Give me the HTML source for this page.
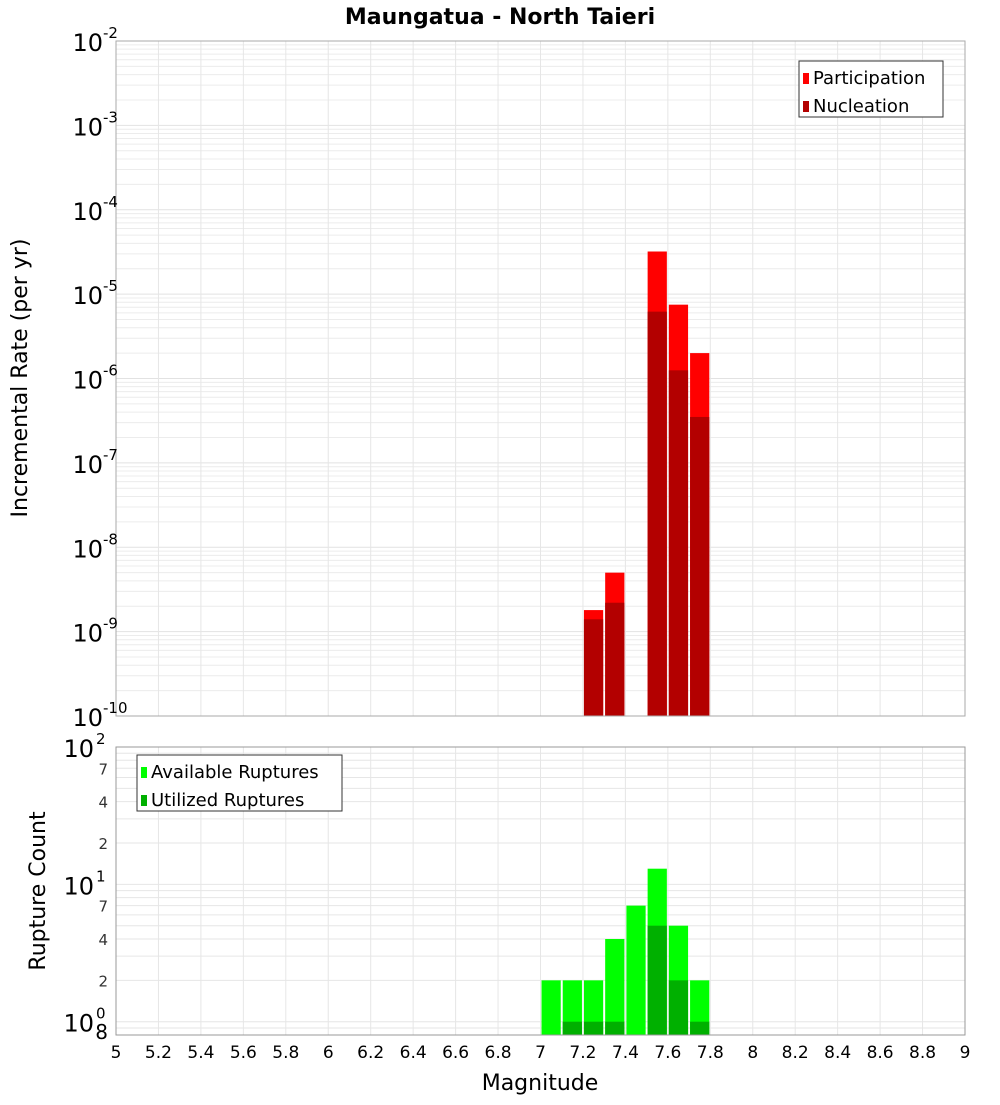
<!DOCTYPE html>
<html><head><meta charset="utf-8"><style>
body{margin:0;background:#fff;font-family:"Liberation Sans","DejaVu Sans",sans-serif}
svg text{font-family:"DejaVu Sans","Liberation Sans",sans-serif}
</style></head><body>
<svg id="c" width="1000" height="1100" xmlns="http://www.w3.org/2000/svg">
<text x="500" y="24" text-anchor="middle" font-size="22" font-weight="bold">Maungatua - North Taieri</text>
<g id="topg"></g>
<g id="botg"></g>
<text transform="translate(27,378) rotate(-90)" text-anchor="middle" font-size="22">Incremental Rate (per yr)</text>
<text transform="translate(45,891) rotate(-90)" text-anchor="middle" font-size="22">Rupture Count</text>
<text x="540" y="1090" text-anchor="middle" font-size="22">Magnitude</text>
</svg>
<script>
const topMags=[7.25,7.35,7.55,7.65,7.75];
const participation=[1.8e-9,5e-9,3.2e-5,7.5e-6,2e-6];
const nucleation=[1.4e-9,2.2e-9,6.2e-6,1.25e-6,3.5e-7];
const botMags=[7.05,7.15,7.25,7.35,7.45,7.55,7.65,7.75];
const available=[2,2,2,4,7,13,5,2];
const utilized=[0,1,1,1,0,5,2,1];
const xTicks=[5,5.2,5.4,5.6,5.8,6,6.2,6.4,6.6,6.8,7,7.2,7.4,7.6,7.8,8,8.2,8.4,8.6,8.8,9];
const topExps=[-2,-3,-4,-5,-6,-7,-8,-9,-10];
const NS="http://www.w3.org/2000/svg";
const X0=116,X1=965;
const xs=m=>X0+(m-5)/4*(X1-X0);
const T0=41,T1=716;const yT=v=>T0+(-2-Math.log10(v))/8*(T1-T0);
const B0=747,B1=1035;const lmin=Math.log10(0.8);const yB=v=>B1-(Math.log10(v)-lmin)/(2-lmin)*(B1-B0);
function mk(p,tag,a){const e=document.createElementNS(NS,tag);for(const k in a)e.setAttribute(k,a[k]);p.appendChild(e);return e;}
const topG=document.getElementById('topg'),botG=document.getElementById('botg');
mk(topG,'rect',{x:X0,y:T0,width:X1-X0,height:T1-T0,fill:'#fff'});
mk(botG,'rect',{x:X0,y:B0,width:X1-X0,height:B1-B0,fill:'#fff'});
for(let e=-10;e<-2;e++)for(let k=1;k<10;k++){const v=k*Math.pow(10,e);const g=mk(topG,'line',{x1:X0,x2:X1,y1:yT(v),y2:yT(v),stroke:k==1?'#e2e2e2':'#ececec','stroke-width':1});

}
for(let e=-1;e<2;e++)for(let k=1;k<10;k++){const v=k*Math.pow(10,e);if(v<0.8)continue;const g=mk(botG,'line',{x1:X0,x2:X1,y1:yB(v),y2:yB(v),stroke:'#e6e6e6','stroke-width':1});

}
xTicks.forEach(t=>{[[topG,T0,T1],[botG,B0,B1]].forEach(([p,a,b])=>{const g=mk(p,'line',{x1:xs(t),x2:xs(t),y1:a,y2:b,stroke:'#e6e6e6'});

});
const tx=mk(botG,'text',{x:xs(t),y:1058,'font-size':17,'text-anchor':'middle'});tx.textContent=t;

});
function bar(p,m,v,yf,base,fill,name){const r=mk(p,'rect',{x:xs(m-0.05)+1,y:yf(v),width:xs(m+0.05)-xs(m-0.05)-2,height:base-yf(v),fill:fill});

}
topMags.forEach((m,i)=>{bar(topG,m,participation[i],yT,T1,'#ff0000','participation-bar');bar(topG,m,nucleation[i],yT,T1,'#b30000','nucleation-bar');});
botMags.forEach((m,i)=>{bar(botG,m,available[i],yB,B1,'#00ff00','available-bar');if(utilized[i]>0)bar(botG,m,utilized[i],yB,B1,'#00b000','utilized-bar');});
mk(topG,'rect',{x:X0,y:T0,width:X1-X0,height:T1-T0,fill:'none',stroke:'#aaa'});
mk(botG,'rect',{x:X0,y:B0,width:X1-X0,height:B1-B0,fill:'none',stroke:'#999'});
topExps.forEach(e=>{const y=yT(Math.pow(10,e));const t=mk(topG,'text',{x:103,y:y+10,'font-size':24,'text-anchor':'end'});t.textContent='10';


const s=mk(topG,'text',{x:103,y:y-3,'font-size':15});s.textContent=String(e);

});
[[100,'2'],[10,'1'],[1,'0']].forEach(([v,ex])=>{const y=yB(v);const t=mk(botG,'text',{x:116-22,y:y+10,'font-size':24,'text-anchor':'end'});t.textContent='10';


const s=mk(botG,'text',{x:116-20,y:y-3,'font-size':15});s.textContent=ex;

});
[70,40,20,7,4,2,0.8].forEach(v=>{const t=mk(botG,'text',{x:108,y:yB(v)+(v==0.8?4:6),'font-size':v==0.8?20:15,'text-anchor':'end',fill:v==0.8?'#000':'#333'});t.textContent=String(v>=10?v/10:(v==0.8?8:v));

});
function legend(p,x0,y0,w,items){mk(p,'rect',{x:x0,y:y0,width:w,height:56,fill:'#fff',stroke:'#333'});items.forEach(([c,l],i)=>{mk(p,'rect',{x:x0+4,y:y0+12+i*28,width:6,height:11,fill:c});const t=mk(p,'text',{x:x0+14,y:y0+23+i*28,'font-size':18});t.textContent=l;

});}
legend(topG,799,61,144,[['#ff0000','Participation'],['#b30000','Nucleation']]);
legend(botG,137,755,205,[['#00ff00','Available Ruptures'],['#00b000','Utilized Ruptures']]);
</script>
</body></html>
